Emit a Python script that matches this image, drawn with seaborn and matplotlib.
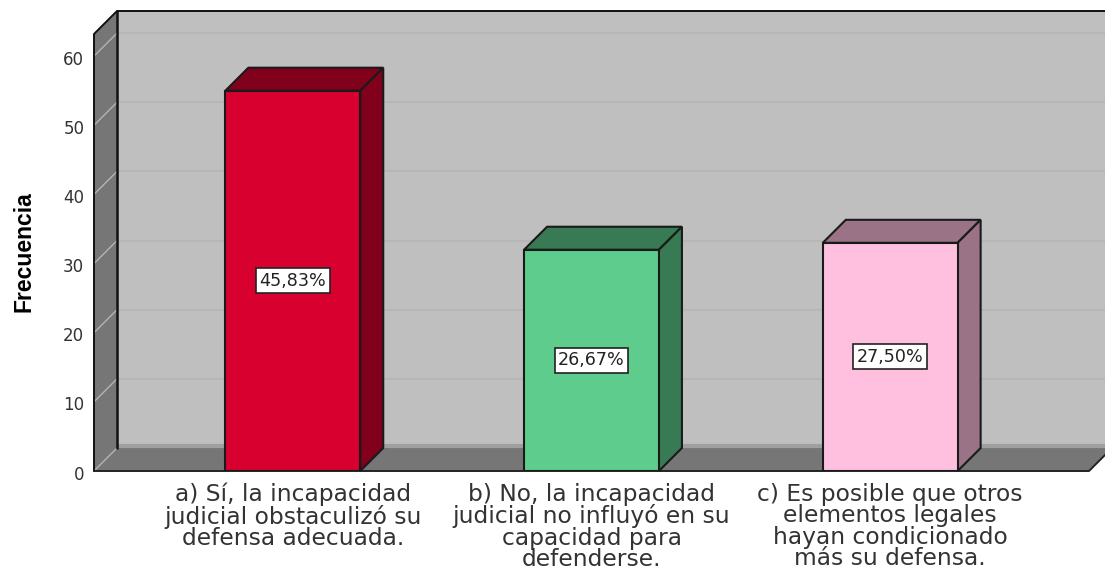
import seaborn as sns
import matplotlib.pyplot as plt
from matplotlib.patches import Polygon
from matplotlib.transforms import ScaledTranslation
import pandas as pd

# Data
categories = [
    'a) Sí, la incapacidad\njudicial obstaculizó su\ndefensa adecuada.',
    'b) No, la incapacidad\njudicial no influyó en su\ncapacidad para\ndefenderse.',
    'c) Es posible que otros\nelementos legales\nhayan condicionado\nmás su defensa.',
]
frequencies = [55, 32, 33]
percent_labels = ['45,83%', '26,67%', '27,50%']
y_ticks = [0, 10, 20, 30, 40, 50, 60]

front_colors = ['#d7002e', '#5ecc8c', '#ffc0e0']
side_colors = ['#81001c', '#387a54', '#9a7387']

data = pd.DataFrame({'categoria': categories, 'frecuencia': frequencies})

sns.set_style("white")
W, H = 1105, 570
fig = plt.figure(figsize=(W / 100, H / 100), dpi=100)
ax = fig.add_axes([94 / W, (H - 471) / H, (1089 - 94) / W, (471 - 34) / H])
ax.patch.set_visible(False)

sns.barplot(
    data=data, x='categoria', y='frecuencia', hue='categoria',
    palette=front_colors, saturation=1, legend=False, width=135 / 299,
    edgecolor='#1a1a1a', linewidth=1.5, zorder=4, ax=ax,
)

x0, x1 = -199 / 299, 2 + 199 / 299
y0, y1 = 0, 63.2
ax.set_xlim(x0, x1)
ax.set_ylim(y0, y1)

# depth of the fake 3D box, in data units
dx = 23 * (x1 - x0) / (1089 - 94)
dy = 23 * (y1 - y0) / (471 - 34)
x_far = x1 + 0.2


def face(points, color, edge='none', lw=0, z=1):
    ax.add_patch(Polygon(points, closed=True, facecolor=color, edgecolor=edge,
                         linewidth=lw, zorder=z, clip_on=False))


# walls and floor
face([(x0 + dx, dy), (x_far, dy), (x_far, y1 + dy), (x0 + dx, y1 + dy)], '#bfbfbf')
face([(x0, 0), (x0 + dx, dy), (x0 + dx, y1 + dy), (x0, y1)], '#767676', z=1.2)
face([(x0, 0), (x1, 0), (x_far, dy * (x_far - x1) / dx), (x_far, dy), (x0 + dx, dy)], '#767676', z=1.2)
ax.hlines(dy + 0.25, x0 + dx, x_far, color='#a0a0a0', lw=3, zorder=1.3, clip_on=False)

# grid on the back wall and left wall
for v in y_ticks:
    if v > 0:
        ax.hlines(v + dy, x0 + dx, x_far, color='#b6b6b6', lw=1.5, zorder=1.1, clip_on=False)
    ax.plot([x0, x0 + dx], [v, v + dy], color='#b4b4b4', lw=1, zorder=1.4, clip_on=False)

# outlines of the box
ax.plot([x0, x0, x0 + dx, x_far], [0, y1, y1 + dy, y1 + dy], color='#111111', lw=1.4, zorder=2, clip_on=False)
ax.plot([x0 + dx, x0 + dx], [dy, y1 + dy], color='#111111', lw=1.8, zorder=2, clip_on=False)
ax.plot([x0, x1, x_far], [0, 0, dy * (x_far - x1) / dx], color='#222222', lw=1.4, zorder=2, clip_on=False)

# bar sides, tops and value boxes
for bar, side, label in zip(ax.patches, side_colors, percent_labels):
    left, right = bar.get_x(), bar.get_x() + bar.get_width()
    top = bar.get_height()
    face([(left, top), (right, top), (right + dx, top + dy), (left + dx, top + dy)],
         side, '#1a1a1a', 1.5, 3.5)
    face([(right, 0), (right + dx, dy), (right + dx, top + dy), (right, top)],
         side, '#1a1a1a', 1.5, 3.5)
    ax.text((left + right) / 2, top / 2, label, ha='center', va='center', fontsize=12.6,
            color='#222222', zorder=6,
            bbox=dict(boxstyle='square,pad=0.2', facecolor='white', edgecolor='#222222', linewidth=1.2))

ax.set_yticks(y_ticks)
ax.tick_params(axis='y', length=0, pad=7, labelsize=12, labelcolor='#333333')
ax.tick_params(axis='x', length=0, pad=8.5, labelsize=16.8, labelcolor='#333333')
ax.set_xlabel('')
ax.set_ylabel('')
for lab in ax.get_xticklabels():
    lab.set_linespacing(0.92)
shift = ScaledTranslation(0, -0.015, fig.dpi_scale_trans)
for lab in ax.get_yticklabels():
    lab.set_transform(lab.get_transform() + shift)
sns.despine(ax=ax, left=True, bottom=True)

fig.text(24 / W, (H - 252) / H, 'Frecuencia', rotation=90, ha='center', va='center',
         fontsize=16.5, fontweight='bold', family=['Liberation Sans Narrow', 'Liberation Sans'],
         color='black')

fig.savefig('out.png', dpi=100)
plt.close()
